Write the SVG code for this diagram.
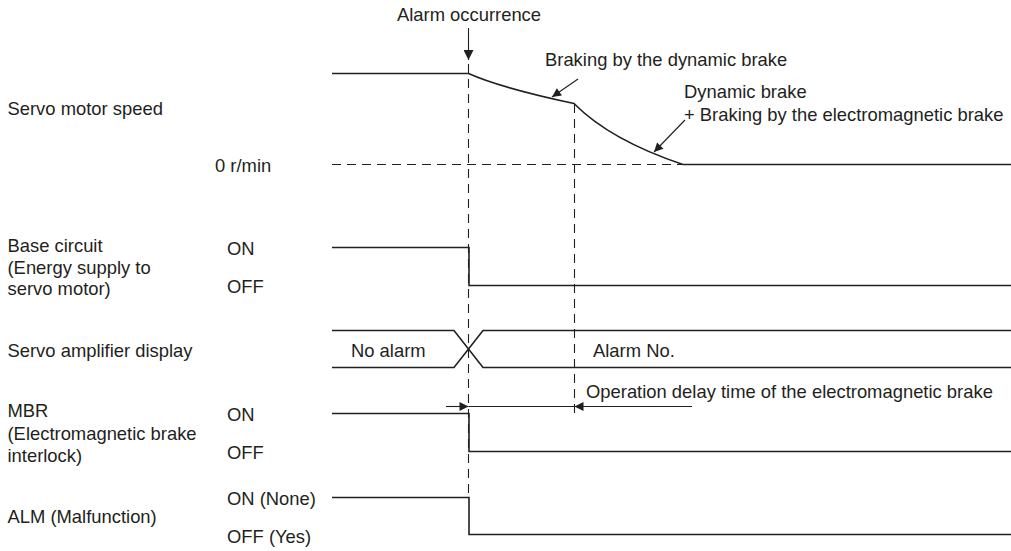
<svg xmlns="http://www.w3.org/2000/svg" width="1011" height="551" viewBox="0 0 1011 551">
  <style>
    text { font-family: "Liberation Sans", Arial, sans-serif; font-size: 18.4px; fill: #231f20; }
    .sig { fill: none; stroke: #231f20; stroke-width: 1.6; }
    .dash { fill: none; stroke: #231f20; stroke-width: 1.1; stroke-dasharray: 9 6; }
    .thin { fill: none; stroke: #231f20; stroke-width: 1.1; }
  </style>
  <defs>
    <marker id="ah" viewBox="0 0 10 10" refX="10" refY="5" markerWidth="10" markerHeight="9" markerUnits="userSpaceOnUse" orient="auto">
      <path d="M0,0 L10,5 L0,10 Z" fill="#231f20"/>
    </marker>
    <marker id="ahBig" viewBox="0 0 10 10" refX="10" refY="5" markerWidth="12" markerHeight="10" markerUnits="userSpaceOnUse" orient="auto">
      <path d="M0,0 L10,5 L0,10 Z" fill="#231f20"/>
    </marker>
  </defs>

  <g id="alarm-occurrence">
    <text x="469" y="21" text-anchor="middle">Alarm occurrence</text>
    <line class="thin" x1="468.5" y1="28" x2="468.5" y2="60" marker-end="url(#ahBig)"/>
  </g>

  <g id="servo-motor-speed">
    <text x="7.5" y="115">Servo motor speed</text>
    <text x="215" y="172">0 r/min</text>
    <path class="sig" d="M332,73.5 L468.5,73.5 Q501,88 574,103.5 Q610,140 683,164.5 L1011,164.5"/>
    <line class="dash" x1="332" y1="164.5" x2="683" y2="164.5"/>
    <text x="545" y="66">Braking by the dynamic brake</text>
    <text x="684" y="98">Dynamic brake</text>
    <text x="684" y="121">+ Braking by the electromagnetic brake</text>
  </g>

  <g id="base-circuit">
    <text x="7.5" y="252">Base circuit</text>
    <text x="7.5" y="274">(Energy supply to</text>
    <text x="7.5" y="295">servo motor)</text>
    <text x="227" y="255">ON</text>
    <text x="227" y="293">OFF</text>
    <path class="sig" d="M332,247.5 L469,247.5 L469,285.5 L1011,285.5"/>
  </g>

  <g id="servo-amplifier-display">
    <text x="7.5" y="357">Servo amplifier display</text>
    <path class="sig" d="M332,330.5 L454,330.5 L483,367.5 L1011,367.5"/>
    <path class="sig" d="M332,367.5 L454,367.5 L483,330.5 L1011,330.5"/>
    <text x="351" y="357">No alarm</text>
    <text x="593" y="357">Alarm No.</text>
  </g>

  <g id="mbr">
    <text x="7.5" y="417">MBR</text>
    <text x="7.5" y="440">(Electromagnetic brake</text>
    <text x="7.5" y="462">interlock)</text>
    <text x="227" y="421">ON</text>
    <text x="227" y="459">OFF</text>
    <path class="sig" d="M332,413.5 L469,413.5 L469,451.5 L1011,451.5"/>
  </g>

  <g id="alm">
    <text x="7.5" y="523">ALM (Malfunction)</text>
    <text x="227" y="505">ON (None)</text>
    <text x="227" y="543">OFF (Yes)</text>
    <path class="sig" d="M332,497.5 L469,497.5 L469,534.5 L1011,534.5"/>
  </g>

  <g id="delay-label">
    <text x="586" y="398">Operation delay time of the electromagnetic brake</text>
  </g>

  <g id="connectors">
    <line class="dash" x1="468.5" y1="64" x2="468.5" y2="497"/>
    <line class="dash" x1="574.5" y1="104" x2="574.5" y2="418"/>
    <line class="thin" x1="578" y1="79" x2="552" y2="97" marker-end="url(#ah)"/>
    <line class="thin" x1="685" y1="120" x2="654" y2="152" marker-end="url(#ah)"/>
    <line class="thin" x1="446" y1="406.5" x2="468.5" y2="406.5" marker-end="url(#ah)"/>
    <line class="thin" x1="468.5" y1="406.5" x2="574.5" y2="406.5"/>
    <line class="thin" x1="692" y1="406.5" x2="574.5" y2="406.5" marker-end="url(#ah)"/>
  </g>
</svg>
